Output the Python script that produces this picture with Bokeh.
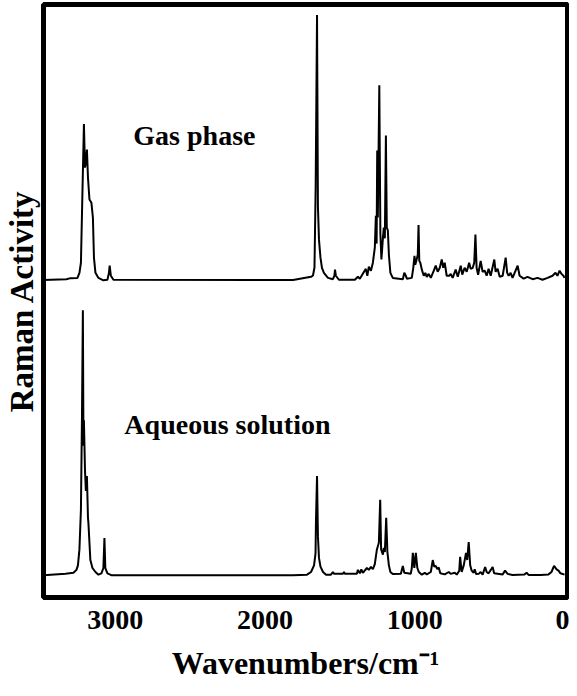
from bokeh.plotting import figure
from bokeh.models import Range1d, FixedTicker, Label
from bokeh.embed import file_html
from bokeh.resources import INLINE

# Gas-phase Raman trace (wavenumber, relative activity)
gas_wn = [3480, 3327, 3300, 3253, 3240, 3230, 3220, 3210, 3203, 3197, 3190, 3183, 3173, 3160, 3150,
          3143, 3133, 3113, 3080, 3053, 3043, 3038, 3030, 3013, 1813, 1693, 1680, 1670, 1662, 1653,
          1647, 1640, 1630, 1620, 1607, 1580, 1547, 1537, 1533, 1527, 1507, 1400, 1380, 1367, 1327,
          1317, 1307, 1293, 1280, 1267, 1260, 1255, 1251, 1247, 1237, 1230, 1223, 1213, 1207, 1200,
          1193, 1187, 1180, 1173, 1163, 1147, 1080, 1070, 1063, 1053, 1020, 1010, 1002, 997, 990,
          980, 975, 970, 963, 953, 940, 930, 920, 907, 893, 873, 860, 847, 833, 820, 810, 800, 787,
          770, 760, 747, 727, 713, 693, 683, 667, 653, 637, 627, 613, 603, 595, 587, 577, 560, 547,
          533, 520, 507, 493, 469, 460, 447, 433, 413, 393, 383, 373, 360, 347, 313, 300, 273, 247,
          213, 180, 147, 113, 80, 60, 47, 33, 20, 7, 0]
gas_int = [0.3, 0.6, 1.0, 1.1, 3.0, 6.8, 33.0, 59.0, 42.6, 44.5, 49.4, 38.9, 30.6, 29.4, 23.8,
           8.7, 3.0, 1.1, 0.2, 0.4, 3.0, 5.7, 1.9, 0.4, 0.3, 1.5, 2.0, 5.0, 36.0, 100.0,
           28.0, 15.5, 8.7, 4.9, 3.0, 1.1, 0.6, 1.9, 4.2, 1.9, 0.4, 0.4, 1.5, 0.8, 4.5,
           1.9, 5.3, 3.8, 6.8, 12.5, 24.5, 14.0, 49.0, 23.8, 73.6, 18.0, 8.0, 16.0, 20.0, 16.0,
           54.7, 20.0, 19.0, 9.8, 3.0, 1.1, 0.6, 3.0, 2.3, 0.8, 1.1, 4.9, 9.4, 6.0, 7.5,
           9.8, 21.0, 7.5, 6.8, 4.2, 1.9, 3.0, 1.5, 2.6, 1.1, 3.8, 5.7, 3.4, 4.9, 8.0, 4.9, 6.8, 1.9,
           1.9, 2.6, 1.1, 4.2, 1.5, 5.7, 2.3, 4.9, 3.4, 6.8, 4.5, 4.9, 6.8, 17.4, 4.9, 2.3, 7.5, 3.4,
           3.8, 1.9, 4.5, 1.9, 8.0, 3.4, 4.5, 1.5, 1.9, 8.7, 3.0, 1.9, 3.0, 1.1, 5.7, 1.9, 0.8, 1.5,
           0.6, 1.1, 0.4, 1.1, 1.9, 3.0, 1.9, 3.8, 2.6, 1.9, 1.1]

# Aqueous-solution Raman trace (wavenumber, relative activity)
aq_wn = [3480, 3333, 3280, 3260, 3250, 3240, 3230, 3223, 3217, 3213, 3210, 3203, 3197, 3190, 3183,
         3180, 3167, 3153, 3133, 3113, 3093, 3080, 3073, 3067, 3053, 3027, 1813, 1720, 1693, 1673,
         1663, 1660, 1653, 1647, 1640, 1630, 1613, 1593, 1560, 1547, 1540, 1480, 1473, 1467, 1387,
         1380, 1367, 1357, 1347, 1320, 1307, 1293, 1280, 1267, 1253, 1240, 1231, 1225, 1213, 1207,
         1200, 1191, 1183, 1173, 1163, 1147, 1093, 1080, 1070, 1027, 1020, 1013, 1003, 993, 983,
         973, 953, 933, 920, 893, 880, 870, 860, 850, 840, 830, 800, 773, 760, 733, 720, 703, 697,
         687, 673, 658, 650, 640, 630, 620, 607, 600, 590, 573, 560, 547, 530, 520, 507, 490, 480,
         470, 413, 397, 380, 347, 267, 253, 240, 160, 107, 87, 70, 53, 40, 27, 0]
aq_int = [0.3, 0.8, 1.2, 2.3, 4.0, 10.0, 25.0, 60.0, 100.0, 49.0, 58.6, 40.0, 32.0, 37.6, 22.0,
          20.0, 6.0, 3.0, 1.5, 0.5, 1.0, 3.0, 14.3, 3.0, 1.0, 0.3, 0.3, 0.5, 1.5, 4.0,
          8.5, 21.0, 37.6, 15.0, 6.8, 3.5, 1.5, 0.5, 0.5, 1.5, 0.8, 0.8, 1.5, 0.8, 0.8,
          2.3, 1.0, 2.5, 1.2, 3.0, 2.3, 3.4, 2.6, 4.5, 10.0, 12.5, 28.7, 10.0, 8.0, 10.6,
          9.0, 21.9, 9.0, 4.0, 1.5, 0.7, 0.8, 3.8, 1.2, 0.8, 3.0, 8.7, 3.0, 8.7, 3.0,
          1.5, 0.5, 1.2, 0.6, 1.5, 6.0, 3.5, 3.8, 2.6, 3.2, 1.0, 0.6, 1.5, 0.8, 1.2, 0.5, 2.0, 7.2,
          1.5, 4.0, 8.7, 6.0, 12.8, 4.0, 2.0, 1.2, 2.5, 0.7, 0.8, 1.5, 0.5, 3.4, 1.5, 1.0, 2.5, 3.4,
          1.0, 0.6, 2.0, 0.8, 0.4, 0.6, 1.2, 0.4, 0.4, 0.6, 1.5, 3.8, 2.5, 2.0, 1.0, 0.5]

x_ticks = [3000, 2000, 1000, 0]
gas_offset = 111.1
labels = ["Gas phase", "Aqueous solution"]
x_title = "Wavenumbers/cm\u207b\u00b9"
y_title = "Raman Activity"

FONT = "Liberation Serif"

p = figure(width=569, height=688, output_backend="svg", toolbar_location=None,
           x_range=Range1d(3480, -20), y_range=Range1d(-8.1, 215.1),
           min_border_left=42, min_border_right=2, min_border_top=4, min_border_bottom=91)
p.background_fill_color = "white"
p.border_fill_color = "white"
p.outline_line_color = "black"
p.outline_line_width = 5
p.grid.visible = False

p.line(gas_wn, [v + gas_offset for v in gas_int], line_color="black", line_width=2)
p.line(aq_wn, aq_int, line_color="black", line_width=2)

xa = p.xaxis[0]
xa.ticker = FixedTicker(ticks=x_ticks)
xa.axis_line_color = None
xa.major_tick_line_color = None
xa.minor_tick_line_color = None
xa.major_label_text_font = FONT
xa.major_label_text_font_style = "bold"
xa.major_label_text_font_size = "28px"
xa.major_label_text_color = "black"
xa.major_label_standoff = 7
xa.axis_label = x_title
xa.axis_label_text_font = FONT
xa.axis_label_text_font_style = "bold"
xa.axis_label_text_font_size = "32px"
xa.axis_label_text_color = "black"
xa.axis_label_standoff = 13

ya = p.yaxis[0]
ya.ticker = FixedTicker(ticks=[])
ya.axis_line_color = None
ya.major_tick_line_color = None
ya.minor_tick_line_color = None
ya.major_label_standoff = 0
ya.axis_label = y_title
ya.axis_label_text_font = FONT
ya.axis_label_text_font_style = "bold"
ya.axis_label_text_font_size = "33px"
ya.axis_label_text_color = "black"
ya.axis_label_standoff = 4

p.add_layout(Label(x=2880, y=165.7, text=labels[0], text_font=FONT, text_font_style="bold",
                   text_font_size="28px", text_color="black", text_baseline="alphabetic"))
p.add_layout(Label(x=2940, y=56.9, text=labels[1], text_font=FONT, text_font_style="bold",
                   text_font_size="28px", text_color="black", text_baseline="alphabetic"))

open("out.html", "w").write(file_html(p, INLINE))
